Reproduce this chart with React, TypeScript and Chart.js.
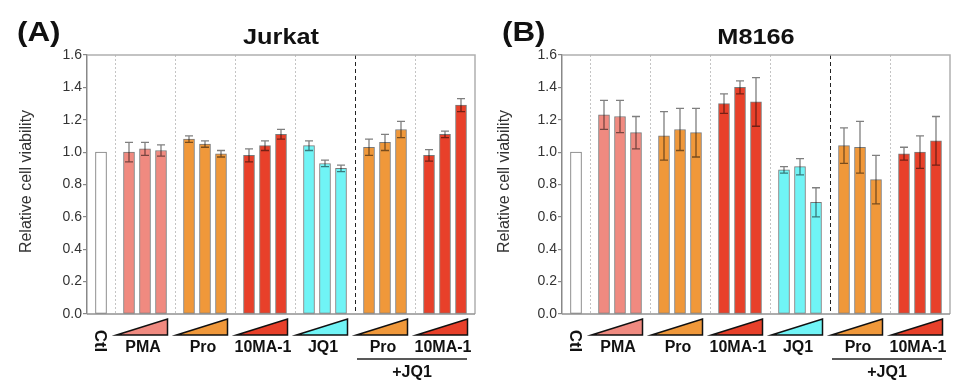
import React, { useEffect, useRef } from 'react';
import { Chart, registerables } from 'chart.js';

Chart.register(...registerables);

// ---- data ----
const groupLabels = ['Ctl', 'PMA', 'Pro', '10MA-1', 'JQ1', 'Pro', '10MA-1'];
const groupColors = ['#FFFFFF', '#F08A80', '#F0983A', '#E8402A', '#70F4F6', '#F0983A', '#E8402A'];
const comboLabel = '+JQ1';
const yAxisTitle = 'Relative cell viability';

const jurkatValues = [1.0, 1.0, 1.02, 1.01, 1.08, 1.05, 0.99, 0.98, 1.04, 1.11, 1.04, 0.93, 0.9, 1.03, 1.06, 1.14, 0.98, 1.11, 1.29];
const jurkatErrors = [0, 0.06, 0.04, 0.035, 0.02, 0.02, 0.02, 0.04, 0.03, 0.03, 0.03, 0.02, 0.02, 0.05, 0.05, 0.05, 0.035, 0.02, 0.04];

const m8166Values = [1.0, 1.23, 1.22, 1.12, 1.1, 1.14, 1.12, 1.3, 1.4, 1.31, 0.89, 0.91, 0.69, 1.04, 1.03, 0.83, 0.99, 1.0, 1.07];
const m8166Errors = [0, 0.09, 0.1, 0.1, 0.15, 0.13, 0.15, 0.06, 0.04, 0.15, 0.02, 0.05, 0.09, 0.11, 0.16, 0.15, 0.04, 0.1, 0.15];

// ---- layout helpers (in x-scale units) ----
const CTL_W = 1.75;
const GROUP_W = 3.75;
const X_MAX = CTL_W + GROUP_W * 6;
const FONT = "'Liberation Sans', Arial, Helvetica, sans-serif";

function groupOf(i: number) {
  return i === 0 ? 0 : Math.floor((i - 1) / 3) + 1;
}
function barPos(i: number) {
  if (i === 0) return CTL_W / 2;
  const g = Math.floor((i - 1) / 3);
  const k = (i - 1) % 3;
  return CTL_W + GROUP_W * g + GROUP_W / 2 + (k - 1);
}
function groupCenter(g: number) {
  return CTL_W + GROUP_W * (g - 1) + GROUP_W / 2;
}

type PanelProps = {
  width: number;
  axisLeft: number;
  title: string;
  label: string;
  labelX: number;
  values: number[];
  errors: number[];
};

function Panel({ width, axisLeft, title, label, labelX, values, errors }: PanelProps) {
  const ref = useRef<HTMLCanvasElement | null>(null);

  useEffect(() => {
    const canvas = ref.current;
    if (!canvas) return;
    const padLeft = 13;

    const decor = {
      id: 'decor',
      beforeDatasetsDraw(chart: any) {
        const { ctx, chartArea: a, scales } = chart;
        const xs = scales.x;
        ctx.save();
        for (let k = 0; k < 6; k++) {
          const px = Math.round(xs.getPixelForValue(CTL_W + GROUP_W * k)) + 0.5;
          ctx.beginPath();
          if (k === 4) {
            ctx.strokeStyle = '#222';
            ctx.setLineDash([4, 3]);
          } else {
            ctx.strokeStyle = '#c4c4c4';
            ctx.setLineDash([2, 2]);
          }
          ctx.lineWidth = 1;
          ctx.moveTo(px, a.top);
          ctx.lineTo(px, a.bottom);
          ctx.stroke();
        }
        ctx.setLineDash([]);
        // top & right frame
        ctx.strokeStyle = '#b0b0b0';
        ctx.lineWidth = 1.5;
        ctx.beginPath();
        ctx.moveTo(a.left, a.top);
        ctx.lineTo(a.right, a.top);
        ctx.lineTo(a.right, a.bottom);
        ctx.stroke();
        // bottom axis
        ctx.strokeStyle = '#909090';
        ctx.beginPath();
        ctx.moveTo(a.left, a.bottom);
        ctx.lineTo(a.right, a.bottom);
        ctx.stroke();
        ctx.restore();
      },
      afterDatasetsDraw(chart: any) {
        const { ctx, chartArea: a, scales } = chart;
        const xs = scales.x;
        const ys = scales.y;
        ctx.save();
        // error bars
        ctx.strokeStyle = 'rgba(0,0,0,0.5)';
        ctx.lineWidth = 1.3;
        values.forEach((v, i) => {
          const e = errors[i];
          if (!e) return;
          const px = xs.getPixelForValue(barPos(i));
          const yt = ys.getPixelForValue(v + e);
          const yb = ys.getPixelForValue(v - e);
          ctx.beginPath();
          ctx.moveTo(px, yt);
          ctx.lineTo(px, yb);
          ctx.moveTo(px - 4, yt);
          ctx.lineTo(px + 4, yt);
          ctx.moveTo(px - 4, yb);
          ctx.lineTo(px + 4, yb);
          ctx.stroke();
        });

        // triangles and group labels
        const base = a.bottom;
        for (let g = 1; g < groupLabels.length; g++) {
          const cx = xs.getPixelForValue(groupCenter(g));
          const tx = cx - 3;
          ctx.beginPath();
          ctx.moveTo(tx - 25.5, base + 21);
          ctx.lineTo(tx + 25.5, base + 5);
          ctx.lineTo(tx + 25.5, base + 21);
          ctx.closePath();
          ctx.fillStyle = groupColors[g];
          ctx.fill();
          ctx.strokeStyle = '#111';
          ctx.lineWidth = 1.5;
          ctx.lineJoin = 'miter';
          ctx.stroke();

          ctx.fillStyle = '#111';
          ctx.font = `bold 16px ${FONT}`;
          ctx.textAlign = 'center';
          ctx.textBaseline = 'middle';
          ctx.fillText(groupLabels[g], cx - 2, base + 34);
        }
        // Ctl rotated
        const ctlX = xs.getPixelForValue(barPos(0));
        ctx.save();
        ctx.translate(ctlX - 1, base + 27);
        ctx.rotate(Math.PI / 2);
        ctx.fillStyle = '#111';
        ctx.font = `bold 17px ${FONT}`;
        ctx.textAlign = 'center';
        ctx.textBaseline = 'middle';
        ctx.fillText(groupLabels[0], 0, 0);
        ctx.restore();

        // +JQ1 bracket
        const lx0 = xs.getPixelForValue(CTL_W + GROUP_W * 4) + 2;
        const lx1 = xs.getPixelForValue(X_MAX) - 8;
        ctx.strokeStyle = '#222';
        ctx.lineWidth = 1.5;
        ctx.beginPath();
        ctx.moveTo(lx0, base + 45);
        ctx.lineTo(lx1, base + 45);
        ctx.stroke();
        ctx.fillStyle = '#111';
        ctx.font = `bold 16px ${FONT}`;
        ctx.textAlign = 'center';
        ctx.textBaseline = 'middle';
        ctx.fillText(comboLabel, (lx0 + lx1) / 2, base + 59);

        // y axis title
        ctx.save();
        ctx.translate(27, (a.top + a.bottom) / 2 - 3);
        ctx.rotate(-Math.PI / 2);
        ctx.fillStyle = '#333';
        ctx.font = `16px ${FONT}`;
        ctx.textAlign = 'center';
        ctx.textBaseline = 'middle';
        ctx.fillText(yAxisTitle, 0, 0);
        ctx.restore();

        // chart title
        ctx.save();
        ctx.translate((a.left + a.right) / 2, 44);
        ctx.scale(1.15, 1);
        ctx.fillStyle = '#111';
        ctx.font = `bold 22px ${FONT}`;
        ctx.textAlign = 'center';
        ctx.textBaseline = 'alphabetic';
        ctx.fillText(title, 0, 0);
        ctx.restore();

        // panel label
        ctx.save();
        ctx.translate(labelX, 41);
        ctx.scale(1.12, 1);
        ctx.fillStyle = '#111';
        ctx.font = `bold 28px ${FONT}`;
        ctx.textAlign = 'left';
        ctx.textBaseline = 'alphabetic';
        ctx.fillText(label, 0, 0);
        ctx.restore();

        ctx.restore();
      },
    };

    const chart = new Chart(canvas, {
      type: 'bar',
      data: {
        datasets: [
          {
            data: values.map((v, i) => ({ x: barPos(i), y: v })),
            backgroundColor: values.map((_, i) => groupColors[groupOf(i)]),
            borderColor: '#7a7a7a',
            borderWidth: 1,
            barThickness: 11,
            borderSkipped: false,
          } as any,
        ],
      },
      options: {
        responsive: false,
        animation: false,
        devicePixelRatio: 1,
        layout: { padding: { left: padLeft, right: 3, top: 55, bottom: 67 } },
        plugins: {
          legend: { display: false },
          tooltip: { enabled: false },
        },
        scales: {
          x: { type: 'linear', min: 0, max: X_MAX, offset: false, display: false },
          y: {
            min: 0,
            max: 1.6,
            ticks: {
              stepSize: 0.2,
              padding: 1,
              color: '#333',
              font: { family: FONT, size: 14 },
              callback: (v: any) => Number(v).toFixed(1),
            },
            grid: { drawOnChartArea: false, drawTicks: true, tickLength: 4, color: '#888', lineWidth: 1.2 },
            border: { color: '#888', width: 1.5 },
            afterFit: (s: any) => {
              s.width = axisLeft - padLeft;
            },
          },
        },
      } as any,
      plugins: [decor],
    });
    return () => chart.destroy();
  }, [width, axisLeft, title, label, labelX, values, errors]);

  return <canvas ref={ref} width={width} height={381} style={{ display: 'block', width, height: 381 }} />;
}

export default function App() {
  useEffect(() => {
    document.body.style.margin = '0';
  }, []);
  return (
    <div style={{ display: 'flex', width: 953, height: 381, background: '#fff' }}>
      <Panel width={478} axisLeft={87} title="Jurkat" label="(A)" labelX={17} values={jurkatValues} errors={jurkatErrors} />
      <Panel width={475} axisLeft={84} title="M8166" label="(B)" labelX={24} values={m8166Values} errors={m8166Errors} />
    </div>
  );
}
